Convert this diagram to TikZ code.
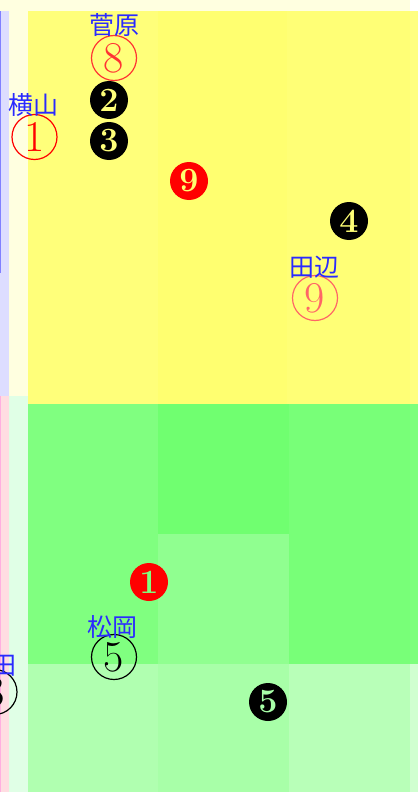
\documentclass[tikz,border=0pt]{standalone}
\usepackage{fontspec}
\newfontfamily\jpfont{Noto Sans CJK JP}
\usetikzlibrary{positioning}
\definecolor{zonaLinea}{HTML}{8080FF}
\definecolor{zonaAzul}{HTML}{DDDDFF}
\definecolor{zonaCrema}{HTML}{FFFFE0}
\definecolor{zonaRosa}{HTML}{FFDDE2}
\definecolor{zonaRosaLinea}{HTML}{FFB0E0}
\definecolor{zonaMenta}{HTML}{E0FFE6}
\definecolor{amaA}{HTML}{FFFF7A}
\definecolor{amaB}{HTML}{FFFF70}
\definecolor{amaC}{HTML}{FFFF76}
\definecolor{amaD}{HTML}{FFFF80}
\definecolor{verA}{HTML}{80FF80}
\definecolor{verB}{HTML}{70FF70}
\definecolor{verC}{HTML}{90FF90}
\definecolor{verD}{HTML}{78FF78}
\definecolor{verE}{HTML}{7CFF7C}
\definecolor{claA}{HTML}{B0FFB0}
\definecolor{claB}{HTML}{A8FFA8}
\definecolor{claC}{HTML}{B8FFB8}
\definecolor{claD}{HTML}{D0FFD0}
\definecolor{nombreAzul}{HTML}{2A2AFF}
\definecolor{rojoSuave}{HTML}{FF6666}
\definecolor{rojoVivo}{HTML}{FF3333}

\begin{document}
\begin{tikzpicture}[x=0.5pt, y=-0.5pt,
      nombre/.style={text=nombreAzul, inner sep=0pt,
                     font=\jpfont\fontsize{12.5}{13}\selectfont},
      abierto/.style={circle, draw=#1, text=#1, line width=0.6pt,
                      minimum size=22.5pt, inner sep=0pt,
                      font=\fontsize{22}{22}\selectfont},
      lleno/.style={circle, fill=#1, minimum size=19pt, inner sep=0pt,
                    font=\bfseries\fontsize{17}{17}\selectfont}]
    \useasboundingbox (0,0) rectangle (418,792);
    \clip (0,0) rectangle (418,792);
    % franjas exteriores
    \fill[zonaCrema] (0,0) rectangle (410,11);
    \fill[zonaAzul]  (0,11) rectangle (9,396);
    \fill[zonaLinea] (0,11) rectangle (1,273);
    \fill[zonaCrema] (9,11) rectangle (28,396);
    \fill[zonaRosa]  (0,396) rectangle (9,792);
    \fill[zonaRosaLinea] (0,396) rectangle (1,792);
    \fill[zonaMenta] (9,396) rectangle (28,792);
    % zona alta
    \fill[amaA] (28,11) rectangle (158,404);
    \fill[amaB] (158,11) rectangle (287,404);
    \fill[amaC] (287,11) rectangle (410,404);
    \fill[amaD] (410,11) rectangle (418,404);
    % zona media
    \fill[verA] (28,404) rectangle (158,664);
    \fill[verB] (158,404) rectangle (289,534);
    \fill[verC] (158,534) rectangle (289,664);
    \fill[verD] (289,404) rectangle (410,664);
    \fill[verE] (410,404) rectangle (418,664);
    % zona baja
    \fill[claA] (28,664) rectangle (158,792);
    \fill[claB] (158,664) rectangle (289,792);
    \fill[claC] (289,664) rectangle (410,792);
    \fill[claD] (410,664) rectangle (418,792);

    % bateadores
    \node[abierto=rojoVivo]  (suga) at (114,58)  {8};
    \node[nombre]            (sugaN) at (114,25) {菅原};
    \node[abierto=red]       (yoko) at (34.5,137) {1};
    \node[nombre]            (yokoN) at (34,105) {横山};
    \node[abierto=rojoSuave] (tana) at (315,298) {9};
    \node[nombre]            (tanaN) at (314,267) {田辺};
    \node[abierto=black]     (matsu) at (114,657) {5};
    \node[nombre]            (matsuN) at (112,627) {松岡};
    \node[abierto=black]     (ota) at (-5.5,692) {3};
    \node[nombre]            (otaN) at (4,666) {田};

    % lanzamientos
    \node[lleno=black, text=amaA] (p2) at (109,100) {2};
    \node[lleno=black, text=amaA] (p3) at (109,141) {3};
    \node[lleno=red,   text=amaB] (p9) at (189,181) {9};
    \node[lleno=black, text=amaC] (p4) at (349,221) {4};
    \node[lleno=red,   text=verA] (p1) at (149,582) {1};
    \node[lleno=black, text=claB] (p5) at (268,702) {5};
  \end{tikzpicture}
\end{document}
